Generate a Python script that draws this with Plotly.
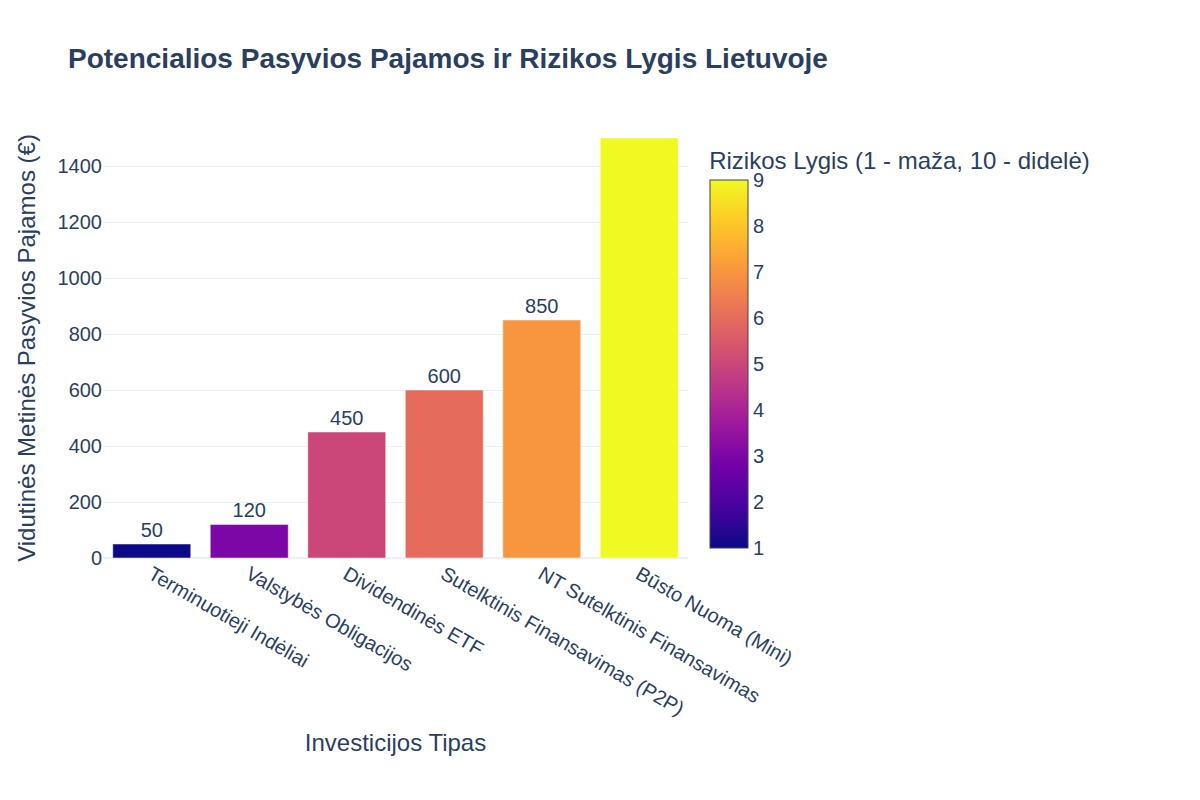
import plotly.graph_objects as go

categories = ["Terminuotieji Indėliai", "Valstybės Obligacijos", "Dividendinės ETF",
              "Sutelktinis Finansavimas (P2P)", "NT Sutelktinis Finansavimas", "Būsto Nuoma (Mini)"]
income = [50, 120, 450, 600, 850, 1500]
risk = [1, 3, 5, 6, 7, 9]

fig = go.Figure(
    go.Bar(
        x=categories,
        y=income,
        text=income,
        texttemplate="%{y:.2s}",
        textposition="outside",
        marker=dict(
            color=risk,
            colorscale="Plasma",
            cmin=1,
            cmax=9,
            colorbar=dict(
                title=dict(text="Rizikos Lygis (1 - maža, 10 - didelė)", side="top"),
                thickness=38,
                len=1.0,
                y=0.5,
                yanchor="middle",
                x=1.02,
            ),
        ),
    )
)

fig.update_layout(
    template="plotly_white",
    width=1200,
    height=800,
    font=dict(family="Arial, Liberation Sans, sans-serif", size=20, color="#2a3f5f"),
    title=dict(text="<b>Potencialios Pasyvios Pajamos ir Rizikos Lygis Lietuvoje</b>",
               font=dict(size=28), x=0.05, y=0.95),
    xaxis=dict(title="Investicijos Tipas", tickangle=30),
    yaxis=dict(title="Vidutinės Metinės Pasyvios Pajamos (€)", range=[0, 1500]),
    margin=dict(l=95, r=520, t=130, b=250),
    bargap=0.2,
)

fig.write_html("out.html")
